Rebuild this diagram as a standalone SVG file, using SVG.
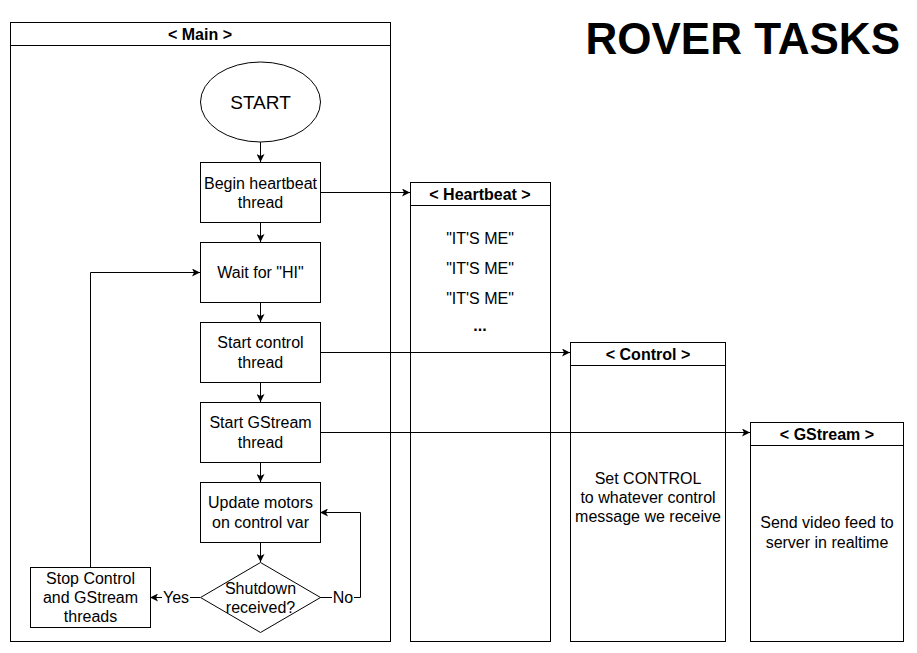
<svg xmlns="http://www.w3.org/2000/svg" width="917" height="653" viewBox="0 0 917 653">
<style>
.box{fill:#fff;stroke:#000;stroke-width:1}
.lane{fill:none;stroke:#000;stroke-width:1}
.t{font-family:"Liberation Sans",Arial,sans-serif;font-size:16px;fill:#000;text-anchor:middle}
.h{font-family:"Liberation Sans",Arial,sans-serif;font-size:16px;font-weight:bold;fill:#000;text-anchor:middle}
.c{fill:none;stroke:#000;stroke-width:1;marker-end:url(#arr)}
.lbl{fill:#fff;stroke:none}
</style>
<defs>
<marker id="arr" viewBox="0 0 10 10" refX="10" refY="5" markerWidth="8" markerHeight="8" markerUnits="userSpaceOnUse" orient="auto">
<path d="M0,0 L10,5 L0,10 L2.5,5 Z" fill="#000"/>
</marker>
</defs>
<rect width="917" height="653" fill="#fff"/>
<text x="900" y="54" font-family="'Liberation Sans',Arial,sans-serif" font-size="44" font-weight="bold" text-anchor="end">ROVER TASKS</text>

<g id="lane-main">
<rect class="lane" x="10.5" y="22.5" width="380" height="619"/>
<line x1="10.5" y1="45.5" x2="390.5" y2="45.5" stroke="#000"/>
<text class="h" x="200" y="40">&lt; Main &gt;</text>
</g>
<g id="lane-heartbeat">
<rect class="lane" x="410.5" y="182.5" width="140" height="459"/>
<line x1="410.5" y1="205.5" x2="550.5" y2="205.5" stroke="#000"/>
<text class="h" x="480" y="200">&lt; Heartbeat &gt;</text>
<text class="t" x="480" y="244">"IT'S ME"</text>
<text class="t" x="480" y="274">"IT'S ME"</text>
<text class="t" x="480" y="304">"IT'S ME"</text>
<text class="h" x="480" y="331">...</text>
</g>
<g id="lane-control">
<rect class="lane" x="570.5" y="342.5" width="155" height="299"/>
<line x1="570.5" y1="365.5" x2="725.5" y2="365.5" stroke="#000"/>
<text class="h" x="648" y="360">&lt; Control &gt;</text>
<text class="t" x="648" y="484">Set CONTROL</text>
<text class="t" x="648" y="503">to whatever control</text>
<text class="t" x="648" y="522">message we receive</text>
</g>
<g id="lane-gstream">
<rect class="lane" x="750.5" y="422.5" width="153" height="219"/>
<line x1="750.5" y1="445.5" x2="903.5" y2="445.5" stroke="#000"/>
<text class="h" x="827" y="440">&lt; GStream &gt;</text>
<text class="t" x="827" y="528">Send video feed to</text>
<text class="t" x="827" y="548">server in realtime</text>
</g>

<g id="connectors">
<path class="c" d="M260.5,142 V162"/>
<path class="c" d="M260.5,222 V242"/>
<path class="c" d="M260.5,302 V322"/>
<path class="c" d="M260.5,382 V402"/>
<path class="c" d="M260.5,462 V482"/>
<path class="c" d="M260.5,542 V562"/>
<path class="c" d="M320,192.5 H410"/>
<path class="c" d="M320,352.5 H570"/>
<path class="c" d="M320,432.5 H750"/>
<path class="c" d="M320,597.5 H360.5 V512.5 H320"/>
<path class="c" d="M200,597.5 H150"/>
<path class="c" d="M90.5,567 V272.5 H200"/>
<rect class="lbl" x="162" y="589" width="28" height="17"/>
<text class="t" x="176" y="603">Yes</text>
<rect class="lbl" x="332" y="589" width="22" height="17"/>
<text class="t" x="343" y="603">No</text>
</g>

<g id="n-start">
<ellipse class="box" cx="260.5" cy="102" rx="60" ry="40"/>
<text class="t" x="260.5" y="109" font-size="19" style="font-size:19px">START</text>
</g>
<g id="n-heartbeat">
<rect class="box" x="200.5" y="162.5" width="120" height="60"/>
<text class="t" x="260.5" y="189">Begin heartbeat</text>
<text class="t" x="260.5" y="208">thread</text>
</g>
<g id="n-wait">
<rect class="box" x="200.5" y="242.5" width="120" height="60"/>
<text class="t" x="260.5" y="278">Wait for "HI"</text>
</g>
<g id="n-control">
<rect class="box" x="200.5" y="322.5" width="120" height="60"/>
<text class="t" x="260.5" y="348">Start control</text>
<text class="t" x="260.5" y="368">thread</text>
</g>
<g id="n-gstream">
<rect class="box" x="200.5" y="402.5" width="120" height="60"/>
<text class="t" x="260.5" y="428">Start GStream</text>
<text class="t" x="260.5" y="448">thread</text>
</g>
<g id="n-update">
<rect class="box" x="200.5" y="482.5" width="120" height="60"/>
<text class="t" x="260.5" y="508">Update motors</text>
<text class="t" x="260.5" y="528">on control var</text>
</g>
<g id="n-shutdown">
<polygon class="box" points="260.5,562.5 320.5,597.5 260.5,632.5 200.5,597.5"/>
<text class="t" x="260.5" y="594">Shutdown</text>
<text class="t" x="260.5" y="613">received?</text>
</g>
<g id="n-stop">
<rect class="box" x="30.5" y="567.5" width="120" height="60"/>
<text class="t" x="90.5" y="584">Stop Control</text>
<text class="t" x="90.5" y="603">and GStream</text>
<text class="t" x="90.5" y="622">threads</text>
</g>
</svg>
